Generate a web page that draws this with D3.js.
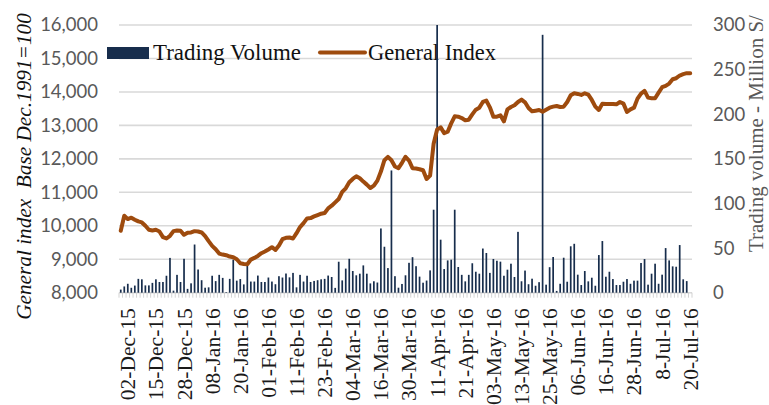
<!DOCTYPE html>
<html><head><meta charset="utf-8">
<script src="https://cdn.jsdelivr.net/npm/d3@7"></script>
<style>body{margin:0;background:#fff}svg{display:block}</style>
</head><body>
<svg id="c" width="769" height="405"></svg>
<script>
// ---- data ----
const categories = [
"02-Dec-15","03-Dec-15","04-Dec-15","07-Dec-15","09-Dec-15","10-Dec-15","11-Dec-15","14-Dec-15","15-Dec-15","16-Dec-15","17-Dec-15","18-Dec-15","21-Dec-15","22-Dec-15","23-Dec-15","24-Dec-15","28-Dec-15","29-Dec-15","30-Dec-15","31-Dec-15",
"04-Jan-16","05-Jan-16","06-Jan-16","07-Jan-16","08-Jan-16","11-Jan-16","12-Jan-16","13-Jan-16","14-Jan-16","15-Jan-16","18-Jan-16","19-Jan-16","20-Jan-16","21-Jan-16","22-Jan-16","25-Jan-16","26-Jan-16","27-Jan-16","28-Jan-16","29-Jan-16",
"01-Feb-16","02-Feb-16","03-Feb-16","04-Feb-16","05-Feb-16","08-Feb-16","09-Feb-16","10-Feb-16","11-Feb-16","12-Feb-16","15-Feb-16","16-Feb-16","17-Feb-16","18-Feb-16","19-Feb-16","22-Feb-16","23-Feb-16","24-Feb-16","25-Feb-16","26-Feb-16","29-Feb-16",
"01-Mar-16","02-Mar-16","03-Mar-16","04-Mar-16","07-Mar-16","08-Mar-16","09-Mar-16","10-Mar-16","11-Mar-16","14-Mar-16","15-Mar-16","16-Mar-16","17-Mar-16","18-Mar-16","21-Mar-16","22-Mar-16","23-Mar-16","28-Mar-16","29-Mar-16","30-Mar-16","31-Mar-16",
"01-Apr-16","04-Apr-16","05-Apr-16","06-Apr-16","07-Apr-16","08-Apr-16","11-Apr-16","12-Apr-16","13-Apr-16","14-Apr-16","15-Apr-16","18-Apr-16","19-Apr-16","20-Apr-16","21-Apr-16","22-Apr-16","25-Apr-16","26-Apr-16","27-Apr-16","28-Apr-16","29-Apr-16",
"02-May-16","03-May-16","04-May-16","05-May-16","06-May-16","09-May-16","10-May-16","11-May-16","12-May-16","13-May-16","16-May-16","17-May-16","18-May-16","19-May-16","20-May-16","23-May-16","24-May-16","25-May-16","26-May-16","27-May-16","30-May-16","31-May-16",
"01-Jun-16","02-Jun-16","03-Jun-16","06-Jun-16","07-Jun-16","08-Jun-16","09-Jun-16","10-Jun-16","13-Jun-16","14-Jun-16","15-Jun-16","16-Jun-16","17-Jun-16","20-Jun-16","21-Jun-16","22-Jun-16","23-Jun-16","24-Jun-16","27-Jun-16","28-Jun-16","29-Jun-16","30-Jun-16",
"01-Jul-16","04-Jul-16","05-Jul-16","06-Jul-16","07-Jul-16","8-Jul-16","11-Jul-16","12-Jul-16","13-Jul-16","14-Jul-16","15-Jul-16","18-Jul-16","19-Jul-16","20-Jul-16","21-Jul-16","22-Jul-16"
];
const tickLabels = ["02-Dec-15","15-Dec-15","28-Dec-15","08-Jan-16","20-Jan-16","01-Feb-16","11-Feb-16","23-Feb-16","04-Mar-16","16-Mar-16","30-Mar-16","11-Apr-16","21-Apr-16","03-May-16","13-May-16","25-May-16","06-Jun-16","16-Jun-16","28-Jun-16","8-Jul-16","20-Jul-16"];
// Trading volume, million S/
const tradingVolume = [
3.5,7,10,5.5,8,15.5,15,8.2,8.2,11,15,12,12,19,39,2.3,20,12,38,4.3,
10.5,54,26,14,5.6,6,19,13,20,16.6,0.7,15.5,37,13.5,15.3,9.3,30,12.5,12.5,19.2,
12,12,17,12.5,9.5,18.5,17,21.5,17.2,22.2,6,20,12.5,19,12,13.2,14,15,15.5,19.2,17.6,
5.4,34.7,13.8,27,38,24.3,19.5,21.3,30.6,21.3,10.4,12.8,11.4,72,51.5,27.6,137,18.5,5.6,9.8,
19.5,33.5,39.8,29.7,18,11.2,13.6,25,93,300,59.4,26.5,36.2,37,93,28.8,20,12.7,20,33,23.5,
21.3,49.5,44.5,22.2,37.8,35.8,34.8,19,25.8,32.5,17.6,68.2,12.8,24.8,9.5,15.7,7.8,11.8,289,9,28.6,40,
2,10,39.2,12.3,52,54.8,20.2,8.6,24.3,12.7,16.8,7.8,42.2,57.9,17.9,23.5,15.3,8.6,8.6,12.3,15.3,10,
13.5,13.5,33.3,37.7,9,21.3,32.5,10,20.2,50,36.2,29.5,29.1,53.4,15,13,0
];
// General index, base Dec.1991=100
const generalIndex = [
9850,10300,10200,10240,10180,10130,10100,10000,9880,9860,9880,9830,9660,9620,9700,9840,9860,9850,9730,9790,
9800,9840,9830,9800,9690,9540,9400,9300,9170,9140,9120,9080,9060,9000,8880,8860,8850,8990,9040,9100,
9180,9230,9290,9360,9280,9410,9600,9640,9650,9620,9780,9960,10080,10220,10230,10280,10320,10360,10380,10520,10600,
10700,10800,11010,11120,11300,11400,11480,11420,11320,11230,11130,11200,11350,11620,11960,12060,11960,11770,11720,11880,
12060,11950,11720,11710,11690,11660,11400,11500,12450,12880,12940,12770,12810,13060,13270,13260,13220,13150,13170,13330,13470,
13530,13700,13740,13540,13260,13260,13300,13120,13480,13550,13600,13700,13770,13690,13520,13420,13440,13460,13410,13470,13530,
13560,13580,13550,13560,13700,13900,13960,13940,13910,13960,13920,13760,13560,13460,13650,13640,13640,13640,13630,13700,13650,
13400,13480,13530,13800,13950,14030,13830,13810,13810,13980,14140,14180,14250,14380,14410,14490,14530,14560,14560
];
const leftTicks = [8000,9000,10000,11000,12000,13000,14000,15000,16000];
const rightTicks = [0,50,100,150,200,250,300];
const seriesNames = ["Trading Volume","General Index"];
const leftTitle = "General index  Base Dec.1991=100";
const rightTitle = "Trading volume - Million S/";

// ---- chart ----
const svg = d3.select("#c");
const X0 = 119, X1 = 692, YT = 25, YB = 292.7;
const x = d3.scaleBand().domain(categories).range([X0, X1]).padding(0);
const yL = d3.scaleLinear().domain([8000,16000]).range([YB, YT]);
const yR = d3.scaleLinear().domain([0,300]).range([YB, YT]);
const serif = "'Liberation Serif', 'DejaVu Serif', serif";
const sans = "Lato, 'Liberation Sans', sans-serif";
const navy = "#172d4c", orange = "#9e4b0e", grey = "#595959", grid = "#d9d9d9";

function fit(sel, target){
  const w = sel.node().getComputedTextLength();
  const fs = parseFloat(sel.attr("font-size"));
  const nf = fs*target/w;
  sel.attr("font-size", nf);
  return nf;
}

// gridlines
svg.append("g").selectAll("line").data(leftTicks.slice(1)).join("line")
  .attr("x1", X0).attr("x2", X1).attr("y1", d=>yL(d)).attr("y2", d=>yL(d))
  .attr("stroke", grid).attr("stroke-width", 1.6);

// left axis
const gL = svg.append("g").attr("transform", `translate(${X0},0)`)
  .call(d3.axisLeft(yL).tickValues(leftTicks).tickFormat(d3.format(",")).tickSize(0).tickPadding(21));
gL.select(".domain").remove();
gL.selectAll("text").attr("font-family", sans).attr("font-size", 18.5).attr("fill", grey);

// right axis
const gR = svg.append("g").attr("transform", `translate(${X1},0)`)
  .call(d3.axisRight(yR).tickValues(rightTicks).tickSize(0).tickPadding(21));
gR.select(".domain").remove();
gR.selectAll("text").attr("font-family", sans).attr("font-size", 18.5).attr("fill", grey);

// x axis line + category tick marks
const gX = svg.append("g").attr("transform", `translate(0,${YB})`);
gX.append("line").attr("x1", X0).attr("x2", X1).attr("y1", 0).attr("y2", 0)
  .attr("stroke", grid).attr("stroke-width", 1.6);
gX.selectAll("line.tk").data(categories.concat(["__end"])).join("line").attr("class","tk")
  .attr("x1", (d,i)=> X0 + i*x.step()).attr("x2", (d,i)=> X0 + i*x.step())
  .attr("y1", 0).attr("y2", 5).attr("stroke", "#c8c8c8").attr("stroke-width", 0.8);

// x tick labels
const gXL = svg.append("g").attr("transform", `translate(0,${YB})`)
  .call(d3.axisBottom(x).tickValues(tickLabels).tickSize(0));
gXL.select(".domain").remove();
const xt = gXL.selectAll("text")
  .attr("font-family", serif).attr("font-size", 20).attr("fill", "#1a1a1a")
  .attr("transform", "rotate(-90)").attr("text-anchor", "end")
  .attr("x", -15.5).attr("y", 14.5).attr("dy", 0);
const xfs = fit(d3.select(xt.nodes()[0]), 92);
xt.attr("font-size", xfs);

// legend
svg.append("rect").attr("x", 107).attr("y", 47).attr("width", 42).attr("height", 12).attr("fill", navy);
const lg1 = svg.append("text").attr("x", 153).attr("y", 60).attr("font-family", serif)
  .attr("font-size", 22).attr("fill", "#111").text(seriesNames[0]);
fit(lg1, 148);
svg.append("line").attr("x1", 320).attr("x2", 365).attr("y1", 52.5).attr("y2", 52.5)
  .attr("stroke", orange).attr("stroke-width", 4).attr("stroke-linecap", "round");
const lg2 = svg.append("text").attr("x", 368).attr("y", 60).attr("font-family", serif)
  .attr("font-size", 22).attr("fill", "#111").text(seriesNames[1]);
fit(lg2, 128);

// axis titles
const lt = svg.append("text").attr("transform", "translate(31,166.5) rotate(-90)")
  .attr("text-anchor", "middle").attr("font-family", serif).attr("font-style", "italic")
  .attr("font-size", 20).attr("fill", "#111").style("white-space", "pre").text(leftTitle);
fit(lt, 307);
const rt = svg.append("text").attr("transform", "translate(762.5,252) rotate(-90)")
  .attr("text-anchor", "start").attr("font-family", serif)
  .attr("font-size", 18).attr("fill", grey).text(rightTitle);
fit(rt, 237);

// bars
const bw = 1.7;
svg.append("g").selectAll("rect").data(tradingVolume).join("rect")
  .attr("x", (d,i)=> x(categories[i]) + x.bandwidth()/2 - bw/2)
  .attr("y", d=> yR(Math.min(d,300)))
  .attr("width", bw)
  .attr("height", d=> YB - yR(Math.min(d,300)))
  .attr("fill", navy);

// line
const line = d3.line().x((d,i)=> x(categories[i]) + x.bandwidth()/2).y(d=> yL(d));
svg.append("path").datum(generalIndex).attr("d", line)
  .attr("fill", "none").attr("stroke", orange).attr("stroke-width", 4)
  .attr("stroke-linejoin", "round").attr("stroke-linecap", "round");
</script>
</body></html>
